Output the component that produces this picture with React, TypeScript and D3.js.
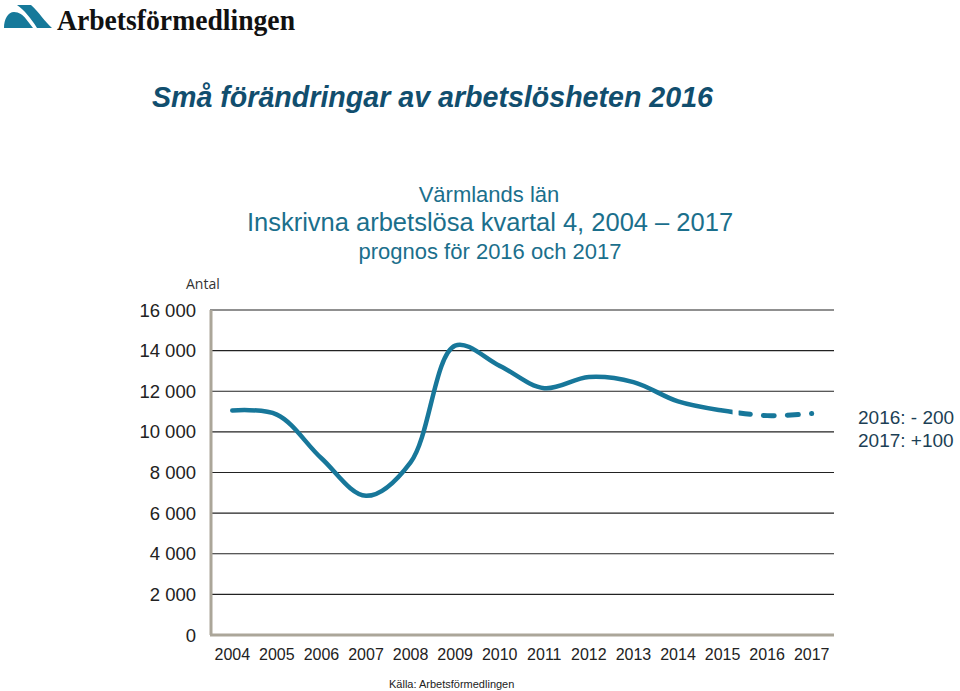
import * as d3 from "d3";

// Inskrivna arbetslösa, kvartal 4 (Värmlands län)
const years = ["2004", "2005", "2006", "2007", "2008", "2009", "2010", "2011", "2012", "2013", "2014", "2015", "2016", "2017"];
const values = [11050, 10850, 8700, 6850, 8500, 14250, 13250, 12150, 12700, 12450, 11500, 11050, 10800, 10900];
const yTicks = [0, 2000, 4000, 6000, 8000, 10000, 12000, 14000, 16000];
const forecastFrom = "2015";
const notes = ["2016: - 200", "2017: +100"];

const W = 960;
const H = 691;
const left = 210;
const right = 834;
const top = 310;
const bottom = 635;

const font = "'Liberation Sans', Arial, sans-serif";
const lineColor = "#17779a";

const App = () => {
  const x = d3.scalePoint<string>().domain(years).range([left, right]).padding(0.5);
  const y = d3.scaleLinear().domain([0, 16000]).range([bottom, top]);

  const pts: [number, number][] = years.map((yr, i) => [x(yr) as number, y(values[i])]);
  const line = d3.line().curve(d3.curveCatmullRom.alpha(0.5));
  const fullPath = line(pts) || "";
  const splitX = (x(forecastFrom) as number) + 10;

  const fmt = (v: number) => d3.format(",")(v).replace(",", " ");

  return (
    <svg width={W} height={H} style={{ position: "absolute", left: 0, top: 0 }}>
      <rect width={W} height={H} fill="#fff" />
      <defs>
        <clipPath id="solidClip">
          <rect x={0} y={0} width={splitX} height={H} />
        </clipPath>
        <clipPath id="dashClip">
          <rect x={splitX + 6} y={0} width={W} height={H} />
        </clipPath>
      </defs>

      {/* logo */}
      <path d="M17,5 L31,5 C39,12 45,22 52,28 L37,28 C31,18 24,10 17,5 Z" fill="#16799a" />
      <path d="M4,28 C4,19 8,12 14,12 C19,12 23,15 26,19 L33,28 Z" fill="#16799a" />
      <text x={57} y={30} fontFamily="'Liberation Serif', 'DejaVu Serif', serif" fontWeight="bold" fontSize={29}
        textLength={238} lengthAdjust="spacingAndGlyphs" fill="#111">Arbetsförmedlingen</text>

      {/* titles */}
      <text x={152} y={107} fontFamily={font} fontWeight="bold" fontStyle="italic" fontSize={28.6} fill="#114e6e">
        Små förändringar av arbetslösheten 2016
      </text>
      <g fontFamily={font} fill="#1b6f8c" textAnchor="middle">
        <text x={489} y={202} fontSize={22}>Värmlands län</text>
        <text x={490} y={231} fontSize={25.5}>Inskrivna arbetslösa kvartal 4, 2004 – 2017</text>
        <text x={490} y={259} fontSize={22}>prognos för 2016 och 2017</text>
      </g>

      <text x={186} y={289} fontFamily="'Open Sans', sans-serif" fontSize={14} fill="#333">Antal</text>

      {/* grid */}
      {yTicks.filter((t) => t > 0).map((t) => (
        <line key={t} x1={left} x2={right} y1={y(t)} y2={y(t)} stroke="#222" strokeWidth={1.2} />
      ))}
      <line x1={left + 1} x2={left + 1} y1={top} y2={bottom} stroke="#aba699" strokeWidth={3} />
      <line x1={left} x2={right} y1={bottom} y2={bottom} stroke="#aba699" strokeWidth={3} />

      {/* y labels */}
      {yTicks.map((t) => (
        <text key={t} x={196} y={y(t) + 6.5} textAnchor="end" fontFamily={font} fontSize={18.5} fill="#222">
          {fmt(t)}
        </text>
      ))}

      {/* x labels */}
      {years.map((yr) => (
        <text key={yr} x={x(yr)} y={660} textAnchor="middle" fontFamily={font} fontSize={16} fill="#222">
          {yr}
        </text>
      ))}

      {/* series */}
      <path d={fullPath} fill="none" stroke={lineColor} strokeWidth={4.5} strokeLinecap="round"
        strokeLinejoin="round" clipPath="url(#solidClip)" />
      <path d={line(pts.slice(years.indexOf(forecastFrom))) || ""} fill="none" stroke={lineColor} strokeWidth={5}
        strokeLinecap="round" strokeDasharray="11 13" strokeDashoffset={-17} clipPath="url(#dashClip)" />

      {/* notes */}
      {notes.map((n, i) => (
        <text key={n} x={858} y={424 + i * 23} fontFamily={font} fontSize={19} fill="#1c3f55">{n}</text>
      ))}

      <text x={389} y={688} fontFamily={font} fontSize={11} fill="#222">Källa: Arbetsförmedlingen</text>
    </svg>
  );
};

export default App;
